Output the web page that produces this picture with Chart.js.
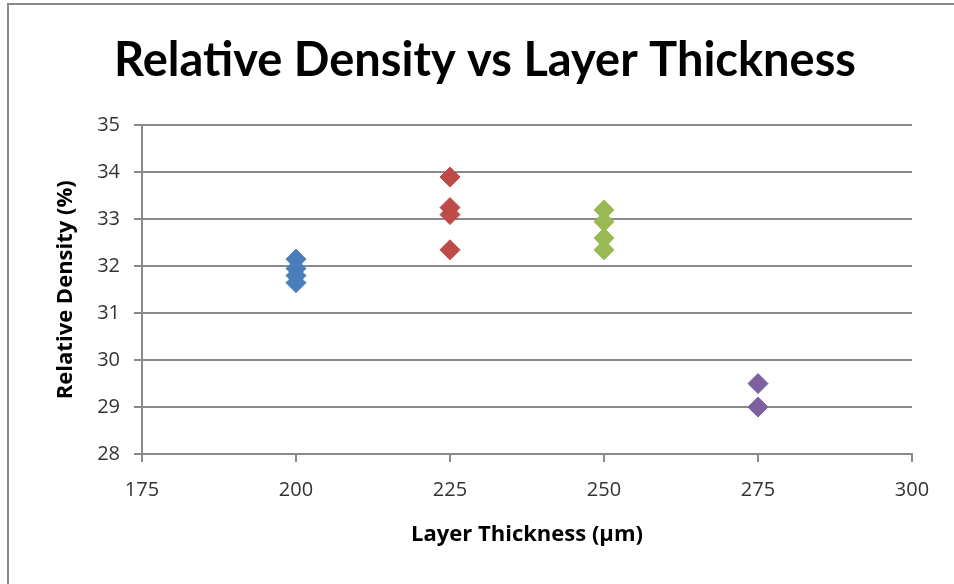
<!DOCTYPE html>
<html>
<head>
<meta charset="utf-8">
<script src="https://cdn.jsdelivr.net/npm/chart.js@4"></script>
<style>
  html, body { margin: 0; padding: 0; background: #fff; }
  #wrap { width: 954px; height: 584px; }
</style>
</head>
<body>
<div id="wrap"><canvas id="c" width="954" height="584"></canvas></div>
<script>
// layer thickness groups (µm) and measured relative density (%)
const thickness = [200, 225, 250, 275];
const density200 = [32.15, 31.95, 31.8, 31.65];
const density225 = [33.9, 33.25, 33.1, 32.35];
const density250 = [33.2, 32.95, 32.6, 32.35];
const density275 = [29.5, 29.0];
const seriesColors = ['#4a7ebb', '#be4b48', '#98b954', '#7d60a0'];
const xTicks = [175, 200, 225, 250, 275, 300];
const yTicks = [28, 29, 30, 31, 32, 33, 34, 35];

const groups = [density200, density225, density250, density275];
const datasets = groups.map((vals, i) => ({
    data: vals.map(v => ({ x: thickness[i], y: v })),
    pointStyle: 'rectRot',
    pointRadius: 10,
    pointHoverRadius: 10,
    backgroundColor: seriesColors[i],
    borderColor: seriesColors[i],
    borderWidth: 1,
    showLine: false
}));

const TITLE_FONT = 'Lato, "Open Sans", sans-serif';
const FONT = '"Open Sans", Lato, sans-serif';

// outer frame of the chart
const framePlugin = {
    id: 'frame',
    beforeDraw(chart) {
        const ctx = chart.ctx;
        ctx.save();
        ctx.fillStyle = '#fff';
        ctx.fillRect(0, 0, chart.width, chart.height);
        ctx.strokeStyle = '#8a8a8a';
        ctx.lineWidth = 2;
        ctx.strokeRect(8, 4, chart.width + 20, chart.height + 20);
        ctx.restore();
    }
};

new Chart(document.getElementById('c'), {
    type: 'scatter',
    data: { datasets },
    plugins: [framePlugin],
    options: {
        responsive: false,
        animation: false,
        layout: { padding: { left: 58, right: 42, top: 0, bottom: 36 } },
        plugins: {
            legend: { display: false },
            tooltip: { enabled: false },
            title: {
                display: true,
                text: 'Relative Density vs Layer Thickness',
                color: '#000',
                font: { family: TITLE_FONT, size: 47, weight: 'bold' },
                padding: { top: 33, bottom: 36 }
            }
        },
        scales: {
            x: {
                type: 'linear',
                min: 175,
                max: 300,
                afterBuildTicks: s => { s.ticks = xTicks.map(v => ({ value: v })); },
                afterFit: s => { s.height = 94; },
                ticks: { color: '#333', font: { family: FONT, size: 20 }, padding: 16 },
                grid: { drawOnChartArea: false, drawTicks: true, tickLength: 8, color: '#8a8a8a', lineWidth: 2 },
                border: { color: '#8a8a8a', width: 2 },
                title: {
                    display: true,
                    text: 'Layer Thickness (µm)',
                    color: '#000',
                    font: { family: FONT, size: 22, weight: 'bold' },
                    padding: { top: 0, bottom: 0 }
                }
            },
            y: {
                type: 'linear',
                min: 28,
                max: 35,
                afterBuildTicks: s => { s.ticks = yTicks.map(v => ({ value: v })); },
                afterFit: s => { s.width = 84; },
                ticks: { color: '#333', font: { family: FONT, size: 20 }, padding: 14 },
                grid: { color: '#8a8a8a', lineWidth: 2, tickLength: 8 },
                border: { color: '#8a8a8a', width: 2 },
                title: {
                    display: true,
                    text: 'Relative Density (%)',
                    color: '#000',
                    font: { family: FONT, size: 22, weight: 'bold' },
                    padding: { top: -5, bottom: 0 }
                }
            }
        }
    }
});
</script>
</body>
</html>
